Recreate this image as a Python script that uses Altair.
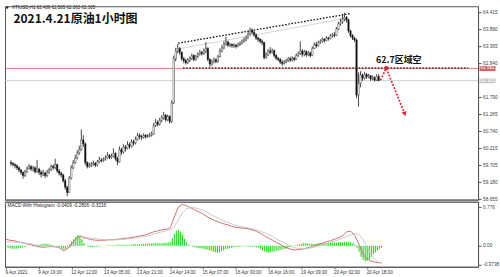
import json
import altair as alt
import pandas as pd

# ---------------- XTIUSD H1 bars ----------------
close = [
    59.75, 59.72, 59.68, 59.62, 59.55, 59.48, 59.38, 59.50, 59.60, 59.66,
    59.58, 59.62, 59.50, 59.58, 59.48, 59.42, 59.46, 59.38, 59.48, 59.56,
    59.66, 59.62, 59.72, 59.52, 59.45, 59.40, 59.22, 59.02, 58.86, 59.30,
    59.62, 59.78, 59.92, 60.08, 60.18, 60.48, 60.36, 59.78, 59.66, 59.70,
    59.74, 59.76, 59.70, 59.80, 59.86, 59.84, 59.88, 59.92, 60.00, 59.94,
    59.98, 60.06, 59.90, 59.80, 60.18, 60.10, 60.26, 60.22, 60.34, 60.28,
    60.42, 60.38, 60.50, 60.62, 60.58, 60.56, 60.62, 60.58, 60.60, 60.62,
    60.66, 60.92, 61.02, 60.96, 61.08, 61.16, 61.24, 61.10, 61.20, 61.05,
    61.62, 62.98, 63.22, 63.30, 63.18, 62.98, 62.92, 62.86, 62.94, 63.00,
    63.08, 62.96, 63.05, 63.12, 63.18, 63.14, 63.22, 63.30, 62.96, 62.82,
    62.88, 62.95, 62.90, 63.05, 63.22, 63.32, 63.44, 63.50, 63.40, 63.42,
    63.38, 63.40, 63.36, 63.42, 63.46, 63.52, 63.56, 63.62, 63.74, 63.86,
    63.80, 63.72, 63.62, 63.58, 63.52, 63.48, 63.02, 63.10, 63.22, 63.18,
    63.24, 63.08, 63.00, 62.96, 62.88, 62.84, 62.88, 62.92, 62.98, 62.94,
    63.00, 62.96, 63.08, 63.14, 63.22, 63.12, 63.20, 63.10, 63.16, 63.08,
    63.30, 63.42, 63.38, 63.48, 63.52, 63.58, 63.54, 63.62, 63.60, 63.68,
    63.72, 63.70, 63.90, 64.06, 64.12, 64.20, 64.26, 64.18, 63.84, 63.70,
    63.62, 63.56, 61.86, 62.22, 62.48, 62.38, 62.50, 62.42, 62.46, 62.36,
    62.40, 62.32, 62.44, 62.305,
]
high = [
    59.85, 59.80, 59.76, 59.72, 59.66, 59.58, 59.50, 59.56, 59.66, 59.74,
    59.70, 59.68, 59.66, 59.86, 59.62, 59.54, 59.56, 59.50, 59.56, 59.62,
    59.72, 59.72, 59.90, 59.74, 59.58, 59.50, 59.44, 59.28, 59.06, 59.36,
    59.70, 59.86, 60.02, 60.16, 60.30, 60.80, 60.62, 60.40, 59.82, 59.78,
    59.80, 59.84, 59.80, 59.86, 59.96, 59.92, 59.94, 60.00, 60.10, 60.04,
    60.06, 60.22, 60.10, 59.96, 60.28, 60.24, 60.34, 60.32, 60.44, 60.40,
    60.50, 60.48, 60.58, 60.70, 60.68, 60.64, 60.68, 60.66, 60.66, 60.70,
    60.74, 61.00, 61.12, 61.08, 61.16, 61.24, 61.34, 61.28, 61.26, 61.24,
    61.70, 63.08, 63.32, 63.44, 63.34, 63.20, 63.04, 62.98, 63.00, 63.06,
    63.14, 63.12, 63.10, 63.18, 63.26, 63.22, 63.30, 63.50, 63.34, 63.00,
    62.96, 63.02, 63.00, 63.10, 63.30, 63.40, 63.52, 63.66, 63.54, 63.48,
    63.46, 63.46, 63.44, 63.48, 63.52, 63.58, 63.64, 63.70, 63.82, 63.94,
    63.92, 63.84, 63.76, 63.66, 63.62, 63.58, 63.50, 63.18, 63.28, 63.34,
    63.30, 63.26, 63.12, 63.04, 63.00, 62.94, 62.94, 62.98, 63.04, 63.04,
    63.06, 63.04, 63.14, 63.20, 63.52, 63.28, 63.26, 63.24, 63.22, 63.20,
    63.36, 63.48, 63.50, 63.54, 63.58, 63.64, 63.62, 63.68, 63.66, 63.74,
    63.78, 63.80, 63.96, 64.12, 64.22, 64.34, 64.40, 64.30, 64.22, 63.88,
    63.74, 63.66, 63.60, 62.56, 62.60, 62.52, 62.58, 62.54, 62.52, 62.48,
    62.46, 62.44, 62.50, 62.505,
]
low = [
    59.68, 59.66, 59.60, 59.55, 59.48, 59.40, 59.28, 59.34, 59.46, 59.56,
    59.52, 59.50, 59.44, 59.46, 59.40, 59.32, 59.36, 59.30, 59.34, 59.44,
    59.52, 59.56, 59.58, 59.46, 59.38, 59.32, 59.16, 58.94, 58.74, 58.84,
    59.26, 59.58, 59.74, 59.88, 60.02, 60.14, 60.26, 59.70, 59.60, 59.62,
    59.64, 59.68, 59.64, 59.66, 59.76, 59.78, 59.80, 59.84, 59.90, 59.88,
    59.90, 59.94, 59.84, 59.70, 59.78, 60.02, 60.06, 60.12, 60.18, 60.20,
    60.24, 60.30, 60.34, 60.46, 60.50, 60.48, 60.52, 60.52, 60.54, 60.56,
    60.58, 60.64, 60.88, 60.90, 60.92, 61.02, 61.10, 61.04, 61.06, 60.98,
    61.00, 61.58, 62.90, 63.14, 63.10, 62.92, 62.84, 62.80, 62.82, 62.88,
    62.94, 62.90, 62.92, 63.00, 63.08, 63.08, 63.10, 63.16, 62.90, 62.72,
    62.76, 62.84, 62.84, 62.86, 63.02, 63.18, 63.28, 63.38, 63.34, 63.34,
    63.32, 63.32, 63.30, 63.34, 63.38, 63.42, 63.48, 63.52, 63.60, 63.70,
    63.74, 63.66, 63.56, 63.50, 63.46, 63.40, 62.96, 62.98, 63.06, 63.12,
    63.14, 63.02, 62.94, 62.90, 62.82, 62.76, 62.80, 62.84, 62.88, 62.88,
    62.90, 62.90, 62.94, 63.04, 63.10, 63.04, 63.06, 63.04, 63.06, 63.02,
    63.06, 63.28, 63.32, 63.36, 63.44, 63.48, 63.48, 63.52, 63.54, 63.58,
    63.64, 63.64, 63.68, 63.86, 64.00, 64.06, 64.14, 64.10, 63.78, 63.64,
    63.56, 63.50, 61.76, 61.50, 62.10, 62.30, 62.34, 62.36, 62.38, 62.30,
    62.32, 62.28, 62.30, 62.29,
]
first_open = 59.78

# ---------------- MACD panel (lines sampled every 2 bars) ----------------
macd_idx = list(range(0, 184, 2)) + [183]
macd_line = [
    0.13, 0.11, 0.10, 0.08, 0.06, 0.04, 0.02, 0.00, -0.02, -0.03,
    -0.02, -0.01, -0.02, -0.04, -0.10, -0.06, 0.04, 0.14, 0.20, 0.17,
    0.14, 0.12, 0.11, 0.11, 0.11, 0.12, 0.12, 0.13, 0.14, 0.15,
    0.16, 0.17, 0.19, 0.20, 0.22, 0.25, 0.28, 0.30, 0.32, 0.33,
    0.36, 0.58, 0.78, 0.83, 0.80, 0.76, 0.72, 0.68, 0.64, 0.58,
    0.54, 0.50, 0.47, 0.44, 0.42, 0.39, 0.37, 0.36, 0.35, 0.34,
    0.32, 0.29, 0.25, 0.20, 0.15, 0.11, 0.06, 0.02, -0.03, -0.06,
    -0.08, -0.08, -0.07, -0.05, -0.03, 0.00, 0.02, 0.05, 0.08, 0.10,
    0.13, 0.16, 0.20, 0.28, 0.29, 0.20, 0.03, -0.17, -0.27, -0.31,
    -0.33, -0.34, -0.34,
]
signal_line = [
    0.08, 0.08, 0.07, 0.07, 0.06, 0.05, 0.04, 0.02, 0.01, -0.01,
    -0.02, -0.02, -0.02, -0.03, -0.05, -0.05, -0.02, 0.05, 0.11, 0.15,
    0.16, 0.15, 0.14, 0.13, 0.12, 0.12, 0.12, 0.12, 0.13, 0.13,
    0.14, 0.15, 0.16, 0.18, 0.19, 0.21, 0.23, 0.26, 0.28, 0.30,
    0.32, 0.38, 0.52, 0.66, 0.74, 0.77, 0.76, 0.74, 0.71, 0.67,
    0.62, 0.58, 0.54, 0.50, 0.47, 0.44, 0.41, 0.39, 0.37, 0.36,
    0.34, 0.32, 0.29, 0.26, 0.22, 0.18, 0.13, 0.09, 0.05, 0.01,
    -0.03, -0.05, -0.06, -0.06, -0.05, -0.03, -0.01, 0.02, 0.04, 0.07,
    0.09, 0.12, 0.15, 0.19, 0.22, 0.24, 0.23, 0.12, -0.03, -0.18,
    -0.28, -0.34, -0.36,
]
histogram = [
    -0.02, -0.04, -0.05, -0.06, -0.06, -0.06, -0.05, -0.04, -0.03, -0.02,
    -0.01, 0.00, 0.00, -0.01, 0.00, 0.01, 0.02, 0.03, 0.04, 0.04,
    0.04, 0.03, 0.02, 0.01, 0.00, -0.02, -0.03, -0.05, -0.07, -0.06,
    -0.03, 0.03, 0.08, 0.13, 0.18, 0.21, 0.19, 0.12, 0.05, 0.00,
    -0.02, -0.03, -0.03, -0.02, -0.02, -0.01, -0.01, 0.00, 0.00, 0.01,
    0.01, 0.01, 0.01, 0.01, 0.02, 0.02, 0.02, 0.02, 0.02, 0.02,
    0.02, 0.02, 0.03, 0.03, 0.03, 0.03, 0.03, 0.04, 0.04, 0.04,
    0.04, 0.05, 0.05, 0.05, 0.05, 0.05, 0.05, 0.06, 0.06, 0.07,
    0.08, 0.15, 0.24, 0.30, 0.31, 0.28, 0.22, 0.14, 0.07, 0.02,
    0.00, -0.02, -0.03, -0.04, -0.05, -0.05, -0.06, -0.07, -0.08, -0.09,
    -0.10, -0.12, -0.13, -0.14, -0.13, -0.11, -0.09, -0.07, -0.06, -0.05,
    -0.04, -0.03, -0.02, -0.02, -0.02, -0.01, -0.01, -0.01, -0.02, -0.02,
    -0.02, -0.02, -0.03, -0.03, -0.06, -0.09, -0.11, -0.13, -0.14, -0.13,
    -0.12, -0.11, -0.10, -0.09, -0.08, -0.07, -0.06, -0.05, -0.03, -0.02,
    -0.01, 0.01, 0.02, 0.03, 0.04, 0.05, 0.05, 0.05, 0.04, 0.04,
    0.04, 0.04, 0.05, 0.05, 0.05, 0.05, 0.05, 0.06, 0.06, 0.06,
    0.06, 0.06, 0.07, 0.07, 0.07, 0.08, 0.08, 0.08, 0.07, 0.05,
    0.02, -0.04, -0.12, -0.22, -0.28, -0.31, -0.30, -0.27, -0.22, -0.17,
    -0.13, -0.09, -0.06, -0.04,
]

# ---------------- axes and levels ----------------
price_ticks = [64.415, 63.890, 63.365, 62.840, 61.790, 61.265, 60.740,
               60.215, 59.705, 59.180, 58.655]
macd_ticks = [0.776, 0.0, -0.3738]
time_ticks = list(range(0, 177, 16))
time_labels = ["9 Apr 2021", "9 Apr 19:00", "12 Apr 12:00", "13 Apr 05:00",
               "13 Apr 21:00", "14 Apr 14:00", "15 Apr 07:00", "16 Apr 00:00",
               "16 Apr 16:00", "19 Apr 09:00", "20 Apr 02:00", "20 Apr 18:00"]

bid_price = 62.682
last_price = 62.305
sell_zone = 62.70
header = "XTIUSD,H1  62.439 62.505 62.363 62.305"
title_text = "2021.4.21原油1小时图"
note_text = "62.7区域空"
macd_header = "MACD With Histogram -0.0409 -0.2806 -0.3216"

# rising wedge top (bar index, price)
wedge_i = [83.2, 169.3]
wedge_p = [63.46, 64.38]
wedge_shadow_p = [63.30, 64.22]
wedge_shadow_i = [84.6, 166.0]
zone_i = [85.6, 227.6]
# projected path: retest of 62.7, then down
path_i = [183.9, 186.8, 196.0]
path_p = [62.32, 62.69, 61.28]

W = 474
H_MAIN = 194
H_MACD = 65
FONT = "Liberation Sans"
CJK = "Noto Sans CJK SC"

# ---------------- tables ----------------
n = min(len(close), len(high), len(low))
opens = [first_open] + close[:-1]  # each hourly bar opens at the prior close
bars = pd.DataFrame({"i": list(range(n)), "o": opens[:n], "h": high[:n],
                     "l": low[:n], "c": close[:n]})
bars["bear"] = bars["c"] < bars["o"]

m = min(len(macd_idx), len(macd_line), len(signal_line))
lines = pd.DataFrame({
    "i": macd_idx[:m] * 2,
    "v": macd_line[:m] + signal_line[:m],
    "s": ["MACD"] * m + ["Signal"] * m,
})
hist = pd.DataFrame({"i": list(range(len(histogram))), "v": histogram,
                     "zero": [0.0] * len(histogram)})

xs = alt.Scale(domain=[-0.5, 230], nice=False, zero=False)
ys = alt.Scale(domain=[58.63, 64.60], nice=False, zero=False)
ms = alt.Scale(domain=[-0.42, 0.88], nice=False, zero=False)

price_axis = alt.Axis(orient="right", values=price_ticks, title=None, grid=False,
                      labelExpr="format(datum.value, '.3f')", tickSize=3,
                      tickColor="#555", domainColor="#555", labelFontSize=4.8,
                      labelColor="#444", labelFont=FONT, labelPadding=1.5,
                      labelOverlap=False)
macd_axis = alt.Axis(orient="right", values=macd_ticks, title=None, grid=False,
                     labelExpr="datum.value == 0 ? '0.00' : (datum.value < 0 ? '-0.3738' : '0.776')",
                     tickSize=3, tickColor="#555", domainColor="#555",
                     labelFontSize=4.8, labelColor="#444", labelFont=FONT,
                     labelPadding=1.5, labelOverlap=False)
time_axis = alt.Axis(orient="bottom", values=time_ticks, title=None, grid=False,
                     labelExpr=json.dumps(time_labels) + "[round(datum.value / 16)]",
                     labelAlign="left", labelAngle=0, tickSize=2, tickColor="#555",
                     domainColor="#555", labelFontSize=4.6, labelColor="#333",
                     labelFont=FONT, labelPadding=1, labelOverlap=False,
                     labelOffset=-1)


def X(field="i:Q"):
    return alt.X(field, scale=xs, axis=None)


def PY(field):
    return alt.Y(field, scale=ys, axis=price_axis)


def MY(field):
    return alt.Y(field, scale=ms, axis=macd_axis)


# ---------------- main price panel ----------------
levels = pd.DataFrame({"p": [bid_price, last_price], "k": ["bid", "last"]})
level_rules = alt.Chart(levels).mark_rule(strokeWidth=0.8).encode(
    y=PY("p:Q"),
    color=alt.Color("k:N", scale=alt.Scale(domain=["bid", "last"],
                                           range=["#d06060", "#c4c4c4"]),
                    legend=None),
)

wedge = alt.Chart(pd.DataFrame({"i": wedge_i, "p": wedge_p})).mark_line(
    color="#111", strokeWidth=1.3, strokeDash=[1.6, 1.6]).encode(x=X(), y=PY("p:Q"))
wedge_shadow = alt.Chart(pd.DataFrame({"i": wedge_shadow_i, "p": wedge_shadow_p})).mark_line(
    color="#d0d0d0", strokeWidth=0.9).encode(x=X(), y=PY("p:Q"))
zone = alt.Chart(pd.DataFrame({"i": zone_i, "p": [sell_zone, sell_zone]})).mark_line(
    color="#4a1414", strokeWidth=1.4, strokeDash=[1.6, 1.6]).encode(x=X(), y=PY("p:Q"))

wicks = alt.Chart(bars).mark_rule(color="#1c1c1c", strokeWidth=0.8).encode(
    x=X(), y=PY("l:Q"), y2="h:Q")
bodies = alt.Chart(bars).mark_bar(width=1.5, stroke="#1c1c1c", strokeWidth=0.4).encode(
    x=X(), y=PY("o:Q"), y2="c:Q",
    color=alt.condition("datum.bear", alt.value("#111111"), alt.value("#ffffff")),
)

path_df = pd.DataFrame({"i": path_i, "p": path_p, "k": list(range(len(path_i)))})
path = alt.Chart(path_df).mark_line(color="#e3232b", strokeWidth=1.7,
                                    strokeDash=[1.8, 1.6]).encode(
    x=X(), y=PY("p:Q"), order="k:Q")
turn_dot = alt.Chart(path_df.iloc[[1]]).mark_point(
    shape="circle", filled=True, color="#e3232b", size=18, opacity=1).encode(
    x=X(), y=PY("p:Q"))
arrow_head = alt.Chart(path_df.iloc[[2]]).mark_point(
    shape="triangle-up", filled=True, color="#e3232b", size=26, angle=158,
    opacity=1).encode(x=X(), y=PY("p:Q"))

note = alt.Chart(pd.DataFrame({"i": [193.0], "p": [62.94], "t": [note_text]})).mark_text(
    font=CJK, fontSize=9, fontWeight="bold", color="#111", align="center",
    baseline="middle").encode(x=X(), y=PY("p:Q"), text="t:N")

box_path = "M-1,-0.31L1,-0.31L1,0.31L-1,0.31Z"
boxes = pd.DataFrame({"p": [bid_price, last_price],
                      "t": [f"{bid_price:.3f}", f"{last_price:.3f}"],
                      "k": ["bid", "last"]})
price_boxes = alt.Chart(boxes).mark_point(shape=box_path, filled=True, size=256,
                                          opacity=1, strokeWidth=0).encode(
    x=alt.value(483.5), y=PY("p:Q"),
    color=alt.Color("k:N", scale=alt.Scale(domain=["bid", "last"],
                                           range=["#e8313a", "#111111"]),
                    legend=None),
)
price_box_text = alt.Chart(boxes).mark_text(font=FONT, fontSize=4.6, color="white",
                                            align="center", baseline="middle").encode(
    x=alt.value(483.5), y=PY("p:Q"), text="t:N")

head_df = pd.DataFrame({"t": [header]})
head_mark = alt.Chart(pd.DataFrame({"t": ["▼"]})).mark_text(
    font="DejaVu Sans", fontSize=4, color="#222", align="left", baseline="middle").encode(
    x=alt.value(0.5), y=alt.value(1.5), text="t:N")
head = alt.Chart(head_df).mark_text(font=FONT, fontSize=4.5, color="#222", align="left",
                                    baseline="middle").encode(
    x=alt.value(7), y=alt.value(1.5), text="t:N")
title = alt.Chart(pd.DataFrame({"t": [title_text]})).mark_text(
    font=CJK, fontSize=12, fontWeight="bold", color="#111", align="left",
    baseline="middle").encode(x=alt.value(8.5), y=alt.value(12.3), text="t:N")

separator = alt.Chart(pd.DataFrame({"k": [0]})).mark_rule(
    color="#777", strokeWidth=2.5).encode(y=alt.value(H_MAIN + 0.5))

main = alt.layer(
    level_rules, wedge_shadow, wedge, zone, wicks, bodies, path, turn_dot,
    arrow_head, note, price_boxes, price_box_text, head_mark, head, title, separator,
).properties(width=W, height=H_MAIN)

# ---------------- MACD panel ----------------
hist_bars = alt.Chart(hist).mark_rule(color="#1fe01f", strokeWidth=1.15).encode(
    x=alt.X("i:Q", scale=xs, axis=time_axis), y=MY("v:Q"), y2="zero:Q")
macd_lines = alt.Chart(lines).mark_line(strokeWidth=0.9).encode(
    x=alt.X("i:Q", scale=xs, axis=time_axis), y=MY("v:Q"),
    color=alt.Color("s:N", scale=alt.Scale(domain=["MACD", "Signal"],
                                           range=["#2a2a2a", "#a8605c"]),
                    legend=None),
)
macd_title = alt.Chart(pd.DataFrame({"t": [macd_header]})).mark_text(
    font=FONT, fontSize=4.7, color="#222", align="left", baseline="middle").encode(
    x=alt.value(2.5), y=alt.value(4.5), text="t:N")

macd = alt.layer(hist_bars, macd_lines, macd_title).properties(width=W, height=H_MACD)

chart = alt.vconcat(main, macd, spacing=2, bounds="flush").properties(
    padding={"left": 3, "top": 4, "right": 0, "bottom": 0},
    background="white",
).configure_view(stroke="#555", strokeWidth=1)

chart.save("out.html", embed_options={"renderer": "svg", "actions": False})
